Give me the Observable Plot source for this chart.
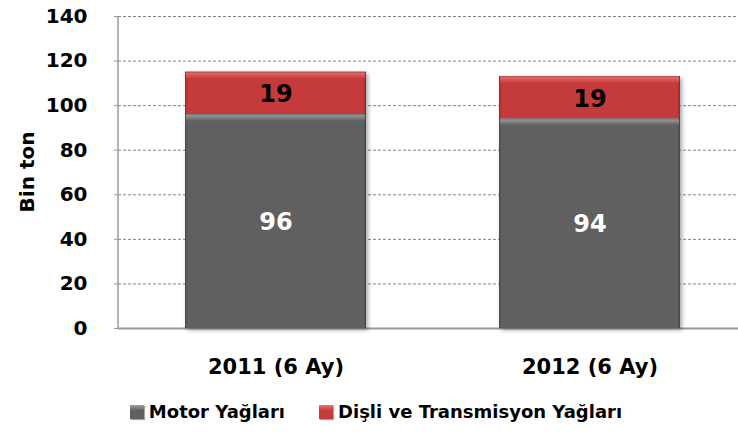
<!DOCTYPE html>
<html><head><meta charset="utf-8">
<script src="https://cdn.jsdelivr.net/npm/d3@7"></script>
<script src="https://cdn.jsdelivr.net/npm/@observablehq/plot@0.6"></script>
<style>
body{margin:0;background:#fff;font-family:"DejaVu Sans",sans-serif;}
#legend{display:flex;justify-content:center;gap:34px;font-weight:700;font-size:18px;line-height:24px;color:#000;margin-top:10px;padding-left:14px;}
#legend span{display:flex;align-items:center;}
#legend i{display:inline-block;width:14px;height:14px;margin-right:5px;box-shadow:1px 1px 1px rgba(0,0,0,.35);}
</style></head>
<body><div id="chart"></div><div id="legend"></div>
<script>
const categories = ["2011 (6 Ay)", "2012 (6 Ay)"];
const series = ["Motor Yağları", "Dişli ve Transmisyon Yağları"];
const motor = [96, 94];
const disli = [19, 19];
const yTicks = [0, 20, 40, 60, 80, 100, 120, 140];
const colors = ["#606060", "#c53a3a"];
const highlights = ["#a0a0a0", "#f07070"];

const data = [];
categories.forEach((c, i) => {
  data.push({cat: c, s: series[0], v: motor[i]});
  data.push({cat: c, s: series[1], v: disli[i]});
});

const FONT = "'DejaVu Sans', sans-serif";
const plot = Plot.plot({
  width: 738, height: 390,
  marginTop: 16, marginBottom: 62, marginLeft: 118, marginRight: 0,
  style: {fontFamily: FONT, fontWeight: "700", color: "#000", background: "#fff"},
  x: {domain: categories, range: [118, 746], paddingInner: 0.425, paddingOuter: 0.21, label: null},
  y: {domain: [0, 140], ticks: yTicks, label: null},
  color: {domain: series, range: colors},
  marks: [
    Plot.gridY(yTicks.filter(d => d > 0), {stroke: "#808080", strokeOpacity: 1, strokeDasharray: "3,2", strokeWidth: 1}),
    Plot.axisY({ticks: yTicks, tickSize: 4, tickPadding: 27, fontSize: 20, fontWeight: "700", stroke: "#9a9a9a", label: null}),
    Plot.ruleY([0], {stroke: "#9a9a9a", strokeWidth: 2}),
    Plot.barY(data, Plot.stackY({x: "cat", y: "v", fill: "s", order: series, className: "seg"})),
    Plot.text(data, Plot.stackY({x: "cat", y: "v", order: series, text: d => String(d.v), fill: d => d.s === series[0] ? "#fff" : "#000", fontSize: 24, fontWeight: "700", dy: 1})),
    Plot.axisX({tickSize: 0, tickPadding: 31, fontSize: 21, fontWeight: "700", label: null})
  ]
});
document.getElementById("chart").appendChild(plot);

const svg = d3.select(plot);
// enforce axis font sizes
svg.selectAll("g[aria-label='y-axis tick label']").attr("font-size", 20).style("font-size", "20px").style("font-weight", "700");
svg.selectAll("g[aria-label='x-axis tick label']").attr("font-size", 21).style("font-size", "21px").style("font-weight", "700");

const defs = svg.insert("defs", ":first-child");
const f = defs.append("filter").attr("id", "sh").attr("x", "-10%").attr("y", "-10%").attr("width", "130%").attr("height", "130%");
f.append("feDropShadow").attr("dx", 2).attr("dy", 2).attr("stdDeviation", 2).attr("flood-color", "#000").attr("flood-opacity", 0.35);
colors.forEach((c, i) => {
  const g = defs.append("linearGradient").attr("id", "hl" + i).attr("x1", 0).attr("x2", 0).attr("y1", 0).attr("y2", 1);
  g.append("stop").attr("offset", "0%").attr("stop-color", highlights[i]);
  g.append("stop").attr("offset", "100%").attr("stop-color", c);
  const gs = defs.append("linearGradient").attr("id", "side" + i).attr("x1", 0).attr("x2", 1).attr("y1", 0).attr("y2", 0);
  gs.append("stop").attr("offset", "0%").attr("stop-color", "#000").attr("stop-opacity", 0.25);
  gs.append("stop").attr("offset", "1.5%").attr("stop-color", "#000").attr("stop-opacity", 0);
  gs.append("stop").attr("offset", "98.5%").attr("stop-color", "#000").attr("stop-opacity", 0);
  gs.append("stop").attr("offset", "100%").attr("stop-color", "#000").attr("stop-opacity", 0.3);
});
const segG = svg.select("g.seg");
segG.attr("filter", "url(#sh)");
segG.selectAll("rect").each(function() {
  const r = d3.select(this);
  const i = colors.indexOf(r.attr("fill"));
  const x = +r.attr("x"), y = +r.attr("y"), w = +r.attr("width"), h = +r.attr("height");
  const parent = this.parentNode;
  const mk = () => { const e = document.createElementNS("http://www.w3.org/2000/svg", "rect"); parent.appendChild(e); return d3.select(e); };
  mk().attr("x", x).attr("y", y).attr("width", w).attr("height", h).attr("fill", `url(#side${i})`);
  mk().attr("x", x + 1).attr("y", y).attr("width", w - 2).attr("height", 7).attr("fill", `url(#hl${i})`);
  mk().attr("x", x).attr("y", y).attr("width", w).attr("height", 1).attr("fill", "#000").attr("fill-opacity", 0.25);
});

svg.append("line").attr("x1", 118).attr("x2", 118).attr("y1", 16).attr("y2", 328).attr("stroke", "#9a9a9a").attr("stroke-width", 1.5);
svg.append("text").attr("transform", "translate(34,172) rotate(-90)").attr("text-anchor", "middle")
  .style("font-size", "20px").style("font-weight", "700").style("font-family", FONT).text("Bin ton");

const leg = document.getElementById("legend");
series.forEach((s, i) => {
  const sp = document.createElement("span");
  sp.innerHTML = `<i style="background:linear-gradient(${highlights[i]},${colors[i]} 40%)"></i>${s}`;
  leg.appendChild(sp);
});
</script></body></html>
